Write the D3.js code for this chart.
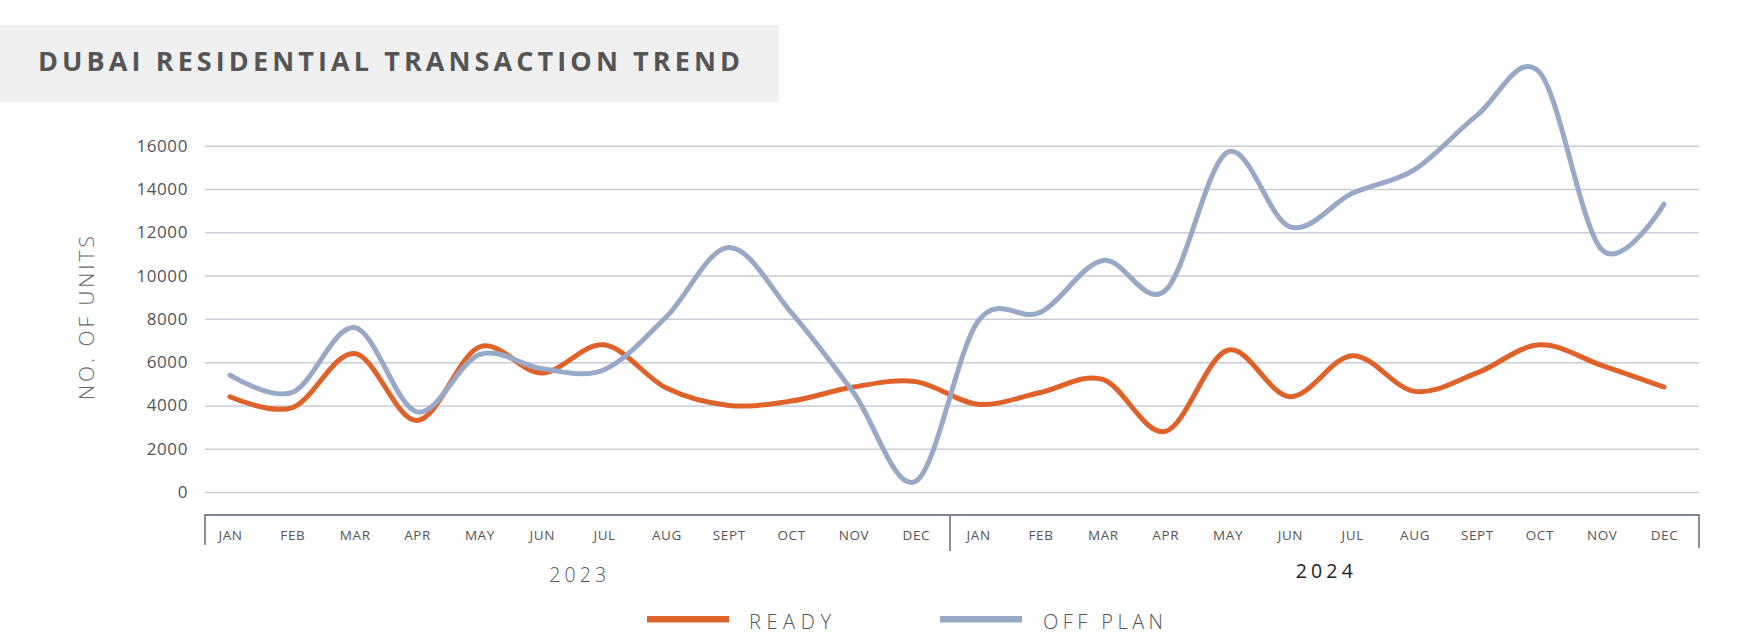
<!DOCTYPE html>
<html><head><meta charset="utf-8">
<script src="https://cdn.jsdelivr.net/npm/d3@7"></script>
<style>
html,body{margin:0;padding:0;background:#fff;}
svg{display:block;font-family:"Open Sans","Lato",sans-serif;}
</style></head>
<body>
<svg id="chart" width="1744" height="637"></svg>
<script>
// ---- data ----
const months = ["JAN","FEB","MAR","APR","MAY","JUN","JUL","AUG","SEPT","OCT","NOV","DEC"];
const years = ["2023","2024"];
const ready2023   = [4400, 3900, 6400, 3300, 6700, 5500, 6800, 4800, 4000, 4200, 4850, 5100];
const ready2024   = [4050, 4600, 5200, 2800, 6550, 4400, 6300, 4650, 5500, 6800, 5850, 4850];
const offplan2023 = [5400, 4600, 7600, 3700, 6350, 5700, 5650, 8100, 11300, 8300, 4600, 500];
const offplan2024 = [7900, 8300, 10700, 9300, 15700, 12250, 13800, 14900, 17400, 19400, 11200, 13300];
const yTicks = [0, 2000, 4000, 6000, 8000, 10000, 12000, 14000, 16000];
const seriesNames = ["READY", "OFF PLAN"];
const title = "DUBAI RESIDENTIAL TRANSACTION TREND";
const yTitle = "NO. OF UNITS";

// ---- build ----
const keys = [];
years.forEach(y => months.forEach(m => keys.push(y + "-" + m)));
const series = [
  {name: seriesNames[0], values: ready2023.concat(ready2024), color: "#e0622b"},
  {name: seriesNames[1], values: offplan2023.concat(offplan2024), color: "#98a9c8"}
];

const svg = d3.select("#chart");
const x = d3.scalePoint().domain(keys).range([230, 1664]);
const y = d3.scaleLinear().domain([0, 16000]).range([492, 145.7]);
const gridL = 205, gridR = 1699;

// title box
svg.append("rect").attr("x", 0).attr("y", 25).attr("width", 779).attr("height", 77).attr("fill", "#f0f0f0");
svg.append("text").attr("x", 38).attr("y", 71)
  .attr("font-size", 27).attr("font-weight", 700).attr("fill", "#555")
  .attr("textLength", 702).attr("lengthAdjust", "spacing").text(title);

// y axis gridlines + labels
const yAxis = d3.axisLeft(y).tickValues(yTicks).tickSize(-(gridR - gridL)).tickPadding(17).tickFormat(d3.format("d"));
const gy = svg.append("g").attr("transform", `translate(${gridL},0)`).call(yAxis);
gy.select(".domain").remove();
gy.selectAll(".tick line").attr("stroke", "#c9cdd5").attr("stroke-width", 1.5);
gy.selectAll(".tick text").attr("font-size", 17).attr("fill", "#555").attr("font-weight", 500)
  .attr("font-family", "'Open Sans', sans-serif").attr("letter-spacing", 0.6).attr("x", -17);

// y title
svg.append("text").attr("transform", "translate(94,318) rotate(-90)")
  .attr("text-anchor", "middle").attr("font-size", 21).attr("font-weight", 300).attr("fill", "#666")
  .attr("textLength", 164).attr("lengthAdjust", "spacing").text(yTitle);

// x axis frame
const midX = (x(keys[11]) + x(keys[12])) / 2 + 3;
svg.append("path").attr("d", `M${gridL},545V515H${gridR}V548`).attr("fill", "none")
  .attr("stroke", "#7d8592").attr("stroke-width", 1.8);
svg.append("line").attr("x1", midX).attr("x2", midX).attr("y1", 515).attr("y2", 551)
  .attr("stroke", "#7d8592").attr("stroke-width", 1.8);

// month labels via axis
const xAxis = d3.axisBottom(x).tickSize(0).tickPadding(0).tickFormat(d => d.split("-")[1]);
const gx = svg.append("g").attr("transform", "translate(0,530)").call(xAxis);
gx.select(".domain").remove();
gx.selectAll(".tick text").attr("font-size", 13.5).attr("fill", "#555").attr("font-weight", 500)
  .attr("font-family", "'Open Sans', sans-serif").attr("letter-spacing", 0.6).attr("dy", "0.72em").attr("y", 0);

// year labels
const yearCenters = [577.7, 1324.3];
const yearBase = [582.3, 578];
const yearFill = ["#555", "#222"];
years.forEach((yr, i) => {
  svg.append("text").attr("x", yearCenters[i]).attr("y", yearBase[i]).attr("text-anchor", "middle")
    .attr("font-size", 19.5).attr("font-weight", i ? 400 : 300).attr("fill", yearFill[i])
    .attr("textLength", 57).attr("lengthAdjust", "spacing").text(yr);
});

// lines
const line = d3.line().x((d, i) => x(keys[i])).y(d => y(d)).curve(d3.curveCardinal.tension(0));
series.forEach(s => {
  svg.append("path").datum(s.values).attr("d", line).attr("fill", "none")
    .attr("stroke", s.color).attr("stroke-width", 5).attr("stroke-linecap", "round").attr("stroke-linejoin", "round");
});

// legend
const legX = [647, 940], legTextX = [749, 1043], legLen = [82, 120];
series.forEach((s, i) => {
  svg.append("rect").attr("x", legX[i]).attr("y", 616).attr("width", 82).attr("height", 6.5).attr("fill", s.color);
  svg.append("text").attr("x", legTextX[i]).attr("y", 628.7).attr("font-size", 20).attr("font-weight", 300)
    .attr("fill", "#555").attr("textLength", legLen[i]).attr("lengthAdjust", "spacing").text(s.name);
});
</script>
</body></html>
